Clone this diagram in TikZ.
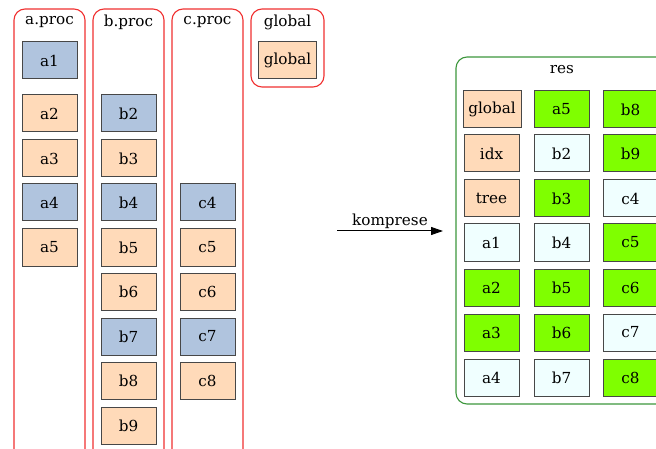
\documentclass[tikz,border=0pt]{standalone}
\usepackage{fontspec}
\setmainfont{DejaVu Serif}
\usetikzlibrary{arrows.meta}
\definecolor{procblue}{HTML}{B0C4DE}
\definecolor{peach}{HTML}{FFDAB9}
\definecolor{lime}{HTML}{7FFF00}
\definecolor{azureish}{HTML}{F0FFFF}
\definecolor{clusterred}{HTML}{F03030}
\definecolor{clustergreen}{HTML}{3C963C}
\tikzset{
  box/.style={draw=black!72, line width=1pt, minimum width=55pt, minimum height=37pt,
    inner sep=0pt, font=\fontsize{15.2}{17}\selectfont},
  wide/.style={minimum width=58pt},
  cluster/.style={draw=clusterred, line width=1.1pt, rounded corners=11pt},
  rescluster/.style={draw=clustergreen, line width=1.1pt, rounded corners=11pt},
  clabel/.style={font=\fontsize{15.2}{17}\selectfont, inner sep=0pt},
  edge/.style={draw=black, line width=1pt, -{Triangle[length=12pt,width=8pt]}}
}
\begin{document}
\begin{tikzpicture}[x=1pt, y=-1pt]
\useasboundingbox (0,0) rectangle (656,449);
\clip (0,0) rectangle (656,449);

% process clusters
\draw[cluster] (14,456) -- (14,9) -- (85,9) -- (85,456);
\draw[cluster] (93,456) -- (93,9) -- (164,9) -- (164,456);
\draw[cluster] (172,456) -- (172,9) -- (243,9) -- (243,456);
\draw[cluster] (251,9) rectangle (324,87);
\node[clabel] (la) at (49.5,22) {a.proc};
\node[clabel] (lb) at (128.5,22) {b.proc};
\node[clabel] (lc) at (207.5,22) {c.proc};
\node[clabel] (lg) at (287.5,22) {global};

% a.proc
\node[box, fill=procblue] (a1) at (49.5,60.5) {a1};
\node[box, fill=peach]    (a2) at (49.5,113.5) {a2};
\node[box, fill=peach]    (a3) at (49.5,158.5) {a3};
\node[box, fill=procblue] (a4) at (49.5,202.5) {a4};
\node[box, fill=peach]    (a5) at (49.5,247.5) {a5};

% b.proc
\node[box, fill=procblue] (b2) at (128.5,113.5) {b2};
\node[box, fill=peach]    (b3) at (128.5,158.5) {b3};
\node[box, fill=procblue] (b4) at (128.5,202.5) {b4};
\node[box, fill=peach]    (b5) at (128.5,247.5) {b5};
\node[box, fill=peach]    (b6) at (128.5,291.5) {b6};
\node[box, fill=procblue] (b7) at (128.5,336.5) {b7};
\node[box, fill=peach]    (b8) at (128.5,380.5) {b8};
\node[box, fill=peach]    (b9) at (128.5,425.5) {b9};

% c.proc
\node[box, fill=procblue] (c4) at (207.5,202.5) {c4};
\node[box, fill=peach]    (c5) at (207.5,247.5) {c5};
\node[box, fill=peach]    (c6) at (207.5,291.5) {c6};
\node[box, fill=procblue] (c7) at (207.5,336.5) {c7};
\node[box, fill=peach]    (c8) at (207.5,380.5) {c8};

% global
\node[box, wide, fill=peach] (g) at (287.5,60.5) {global};

% compression arrow
\coordinate (src) at (337,231);
\coordinate (dst) at (443,231);
\draw[edge] (src) -- node[clabel, above=1.5pt] (kl) {komprese} (dst);

% result cluster
\draw[rescluster] (668,404) -- (456,404) -- (456,57) -- (668,57);
\node[clabel] (lr) at (562,70) {res};

\node[box, wide, fill=peach]   (rglobal) at (492,109.5) {global};
\node[box, fill=peach]   (ridx)  at (491.5,153.5) {idx};
\node[box, fill=peach]   (rtree) at (491.5,198.5) {tree};
\node[box, fill=azureish] (ra1) at (491.5,242.5) {a1};
\node[box, fill=lime]    (ra2) at (491.5,287.5) {a2};
\node[box, fill=lime]    (ra3) at (491.5,332.5) {a3};
\node[box, fill=azureish] (ra4) at (491.5,377.5) {a4};

\node[box, fill=lime]    (ra5) at (561.5,109.5) {a5};
\node[box, fill=azureish] (rb2) at (561.5,153.5) {b2};
\node[box, fill=lime]    (rb3) at (561.5,198.5) {b3};
\node[box, fill=azureish] (rb4) at (561.5,242.5) {b4};
\node[box, fill=lime]    (rb5) at (561.5,287.5) {b5};
\node[box, fill=lime]    (rb6) at (561.5,332.5) {b6};
\node[box, fill=azureish] (rb7) at (561.5,377.5) {b7};

\node[box, fill=lime]    (rb8) at (630.5,109.5) {b8};
\node[box, fill=lime]    (rb9) at (630.5,153.5) {b9};
\node[box, fill=azureish] (rc4) at (630.5,198.5) {c4};
\node[box, fill=lime]    (rc5) at (630.5,242.5) {c5};
\node[box, fill=lime]    (rc6) at (630.5,287.5) {c6};
\node[box, fill=azureish] (rc7) at (630.5,332.5) {c7};
\node[box, fill=lime]    (rc8) at (630.5,377.5) {c8};
\end{tikzpicture}
\end{document}
